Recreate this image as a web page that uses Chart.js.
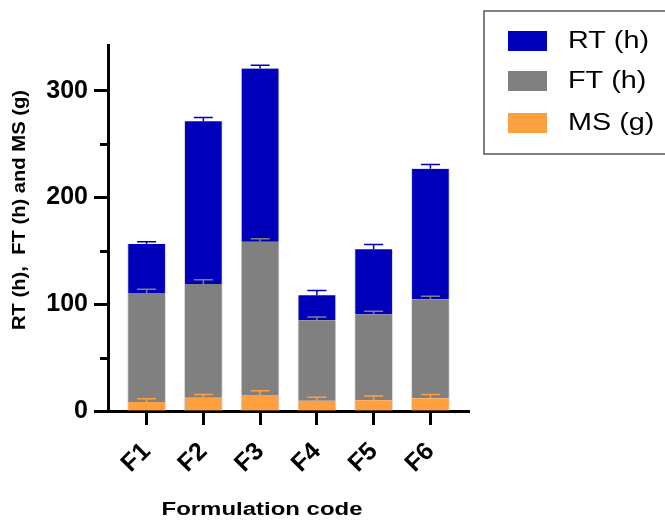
<!DOCTYPE html>
<html lang="en-US">
<head>
  <meta charset="utf-8">
  <title>Formulation code stacked bars</title>
  <script src="https://cdn.jsdelivr.net/npm/chart.js@4/dist/chart.umd.min.js"></script>
  <style>
    html, body { margin: 0; padding: 0; background: #fff; }
    #chart-0 { display: block; }
  </style>
</head>
<body>
  <canvas id="chart-0" width="665" height="521"></canvas>

  <script>
    // values (segment heights, stacked MS -> FT -> RT)
    let labels = ['F1', 'F2', 'F3', 'F4', 'F5', 'F6'];
    let msValues = [8.5, 12.5, 15, 9.5, 10, 12];
    let ftValues = [102, 106.5, 143.5, 75.5, 80.5, 92.5];
    let rtValues = [46, 152.5, 162.5, 23.5, 61, 122.5];
    let msErrors = [3, 3, 4, 3.5, 4, 3.5];
    let ftErrors = [3.5, 4, 3, 3, 3, 3];
    let rtErrors = [2, 3.5, 3, 4.5, 4.5, 4];
    let majorTicks = [0, 100, 200, 300];
    let minorTicks = [50, 150, 250];

    let font = 'Arial, "Liberation Sans", sans-serif';
    let colors = {
      rt: '#0000bb',
      ft: '#808080',
      ms: '#ffa040'
    };

    function points(values) {
      return values.map(function(v, i) {
        return {x: i + 1, y: v};
      });
    }

    // the reference text is drawn a bit wider than plain Arial, so stretch it
    function wideText(ctx, text, x, y, stretch, align) {
      ctx.save();
      ctx.translate(x, y);
      ctx.scale(stretch, 1);
      ctx.textAlign = align || 'center';
      ctx.fillText(text, 0, 0);
      ctx.restore();
    }

    // error bars on top of each stacked segment
    let errorBars = {
      id: 'errorBars',
      afterDatasetsDraw: function(chart) {
        let ctx = chart.ctx;
        let y = chart.scales.y;
        let totals = labels.map(function() { return 0; });
        chart.data.datasets.forEach(function(ds, d) {
          let meta = chart.getDatasetMeta(d);
          ctx.save();
          ctx.strokeStyle = ds.errorColor;
          ctx.lineWidth = 1.5;
          ds.data.forEach(function(pt, i) {
            totals[i] += pt.y;
            let x = meta.data[i].x;
            let y0 = y.getPixelForValue(totals[i]);
            let y1 = y.getPixelForValue(totals[i] + ds.errors[i]);
            ctx.beginPath();
            ctx.moveTo(x, y0);
            ctx.lineTo(x, y1);
            ctx.moveTo(x - 9.5, y1);
            ctx.lineTo(x + 9.5, y1);
            ctx.stroke();
          });
          ctx.restore();
        });
      }
    };

    // minor y ticks, axis titles and the boxed legend
    let decorations = {
      id: 'decorations',
      afterDraw: function(chart) {
        let ctx = chart.ctx;
        let area = chart.chartArea;
        let y = chart.scales.y;
        ctx.save();

        ctx.strokeStyle = '#000';
        ctx.lineWidth = 3;
        minorTicks.forEach(function(v) {
          let py = Math.round(y.getPixelForValue(v)) + 0.5;
          ctx.beginPath();
          ctx.moveTo(area.left - 8, py);
          ctx.lineTo(area.left, py);
          ctx.stroke();
        });

        ctx.fillStyle = '#000';
        ctx.textBaseline = 'middle';
        ctx.font = 'bold 18px ' + font;
        let xTitle = 'Formulation code';
        wideText(ctx, xTitle, 262, 510, 201 / ctx.measureText(xTitle).width);

        ctx.save();
        ctx.translate(20, 210);
        ctx.rotate(-Math.PI / 2);
        ctx.font = 'bold 19px ' + font;
        let yTitle = 'RT (h),  FT (h) and MS (g)';
        wideText(ctx, yTitle, 0, 0, 240 / ctx.measureText(yTitle).width);
        ctx.restore();

        // legend
        ctx.strokeStyle = '#555';
        ctx.lineWidth = 1.5;
        ctx.strokeRect(484, 11, 190, 143);
        let rows = [2, 1, 0];
        let rowY = [41, 81, 123];
        ctx.font = '23px ' + font;
        let stretch = 81 / ctx.measureText('RT (h)').width;
        rows.forEach(function(d, k) {
          let ds = chart.data.datasets[d];
          ctx.fillStyle = ds.backgroundColor;
          ctx.fillRect(508, rowY[k] - 10, 39, 20);
          ctx.fillStyle = '#000';
          wideText(ctx, ds.label, 568, rowY[k] + 1, stretch, 'left');
        });
        ctx.restore();
      }
    };

    let data = {
      datasets: [
        {
          label: 'MS (g)',
          data: points(msValues),
          errors: msErrors,
          backgroundColor: colors.ms,
          errorColor: colors.ms
        },
        {
          label: 'FT (h)',
          data: points(ftValues),
          errors: ftErrors,
          backgroundColor: colors.ft,
          errorColor: colors.ft
        },
        {
          label: 'RT (h)',
          data: points(rtValues),
          errors: rtErrors,
          backgroundColor: colors.rt,
          errorColor: colors.rt
        }
      ]
    };

    let options = {
      responsive: false,
      animation: false,
      layout: {
        padding: {top: 45, right: 196, left: 0, bottom: 0}
      },
      datasets: {
        bar: {
          barThickness: 38,
          borderWidth: {left: 1, right: 1, top: 0, bottom: 0},
          borderColor: '#d6d6d6'
        }
      },
      plugins: {
        legend: {display: false},
        tooltip: {enabled: false}
      },
      scales: {
        x: {
          type: 'linear',
          stacked: true,
          offset: false,
          min: 0.32,
          max: 6.68,
          afterBuildTicks: function(scale) {
            scale.ticks = labels.map(function(l, i) { return {value: i + 1}; });
          },
          afterFit: function(scale) {
            scale.height = 110;
            scale.paddingLeft = 0;
            scale.paddingRight = 0;
          },
          border: {display: true, color: '#000', width: 3},
          grid: {
            offset: false,
            drawOnChartArea: false,
            color: '#000',
            tickLength: 14,
            tickWidth: 3
          },
          ticks: {
            color: '#000',
            font: {family: font, size: 25, weight: 'bold'},
            minRotation: 45,
            maxRotation: 45,
            padding: 12,
            callback: function(v) { return labels[v - 1]; }
          }
        },
        y: {
          stacked: true,
          min: 0,
          max: 343,
          afterBuildTicks: function(scale) {
            scale.ticks = majorTicks.map(function(v) { return {value: v}; });
          },
          afterFit: function(scale) {
            scale.width = 108;
            scale.paddingTop = 0;
            scale.paddingBottom = 0;
          },
          border: {display: true, color: '#000', width: 3},
          grid: {
            drawOnChartArea: false,
            color: '#000',
            tickLength: 14,
            tickWidth: 3
          },
          ticks: {
            color: '#000',
            font: {family: font, size: 25, weight: 'bold'},
            padding: 6
          }
        }
      }
    };

    let chart = new Chart('chart-0', {
      type: 'bar',
      data: data,
      options: options,
      plugins: [errorBars, decorations]
    });
  </script>
</body>
</html>
